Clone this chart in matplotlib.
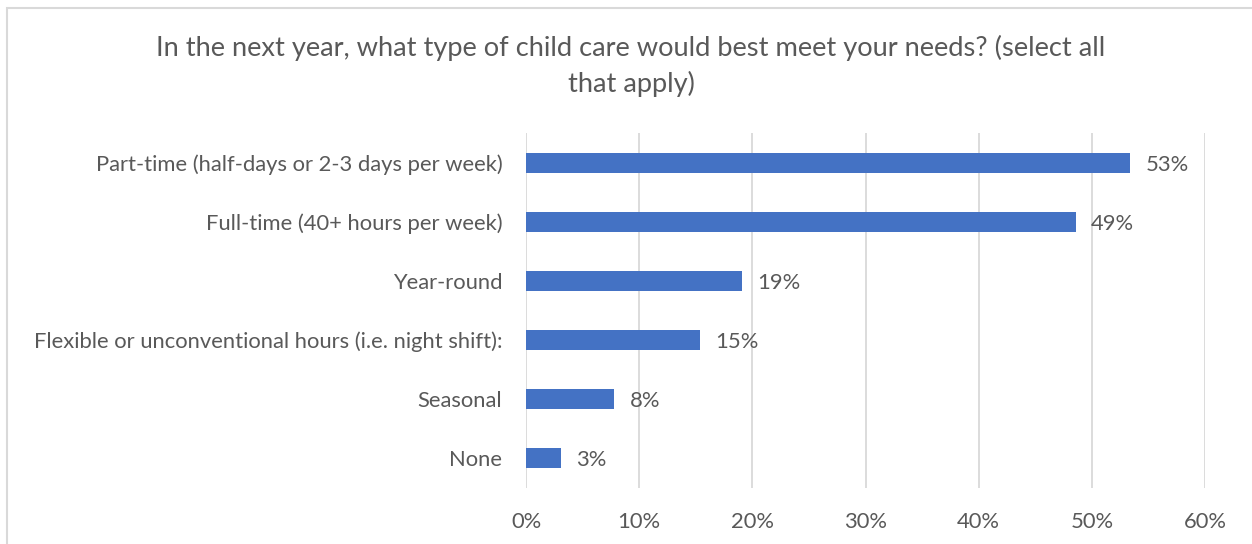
import matplotlib
matplotlib.use("Agg")
import matplotlib.pyplot as plt
from matplotlib.patches import Rectangle

categories = [
    "Part-time (half-days or 2-3 days per week)",
    "Full-time (40+ hours per week)",
    "Year-round",
    "Flexible or unconventional hours (i.e. night shift):",
    "Seasonal",
    "None",
]
values = [53.4, 48.6, 19.1, 15.4, 7.8, 3.1]
labels = ["53%", "49%", "19%", "15%", "8%", "3%"]
xticks = [0, 10, 20, 30, 40, 50, 60]
xticklabels = ["0%", "10%", "20%", "30%", "40%", "50%", "60%"]
title = "In the next year, what type of child care would best meet your needs? (select all\nthat apply)"

plt.rcParams['font.family'] = ['Lato', 'DejaVu Sans']
TXT = "#595959"
FS = 15.8

W, H = 1252, 544
fig = plt.figure(figsize=(W / 100, H / 100), dpi=100)
fig.patch.set_facecolor("white")

# outer chart border
fig.add_artist(Rectangle((7 / W, -0.1), 1.2, 1 - 8.5 / H + 0.1, transform=fig.transFigure,
                         fill=False, edgecolor="#D9D9D9", linewidth=1.5))

ax = fig.add_axes([526 / W, 1 - 488 / H, (1205 - 526) / W, (488 - 133) / H])
n = len(categories)
ypos = list(range(n))
ax.barh(ypos, values, height=0.34, color="#4472C4", zorder=3)
ax.set_ylim(n - 0.5, -0.5)
ax.set_xlim(0, 60)
ax.set_yticks(ypos)
ax.set_yticklabels(categories, fontsize=FS, color=TXT)
ax.set_xticks(xticks)
ax.set_xticklabels(xticklabels, fontsize=FS, color=TXT)
ax.tick_params(axis="both", length=0)
ax.tick_params(axis="y", pad=17)
ax.tick_params(axis="x", pad=17)
for s in ax.spines.values():
    s.set_visible(False)
ax.grid(axis="x", color="#D9D9D9", linewidth=1.3, zorder=0)
ax.set_axisbelow(True)

for y, v, lab in zip(ypos, values, labels):
    ax.annotate(lab, (v, y), xytext=(11, -1.5), textcoords="offset points",
                va="center", ha="left", fontsize=FS, color=TXT)

fig.text(631 / W, 1 - 66 / H, title, ha="center", va="center", fontsize=19.6,
         color=TXT, linespacing=1.5)

fig.savefig("out.png", dpi=100)
